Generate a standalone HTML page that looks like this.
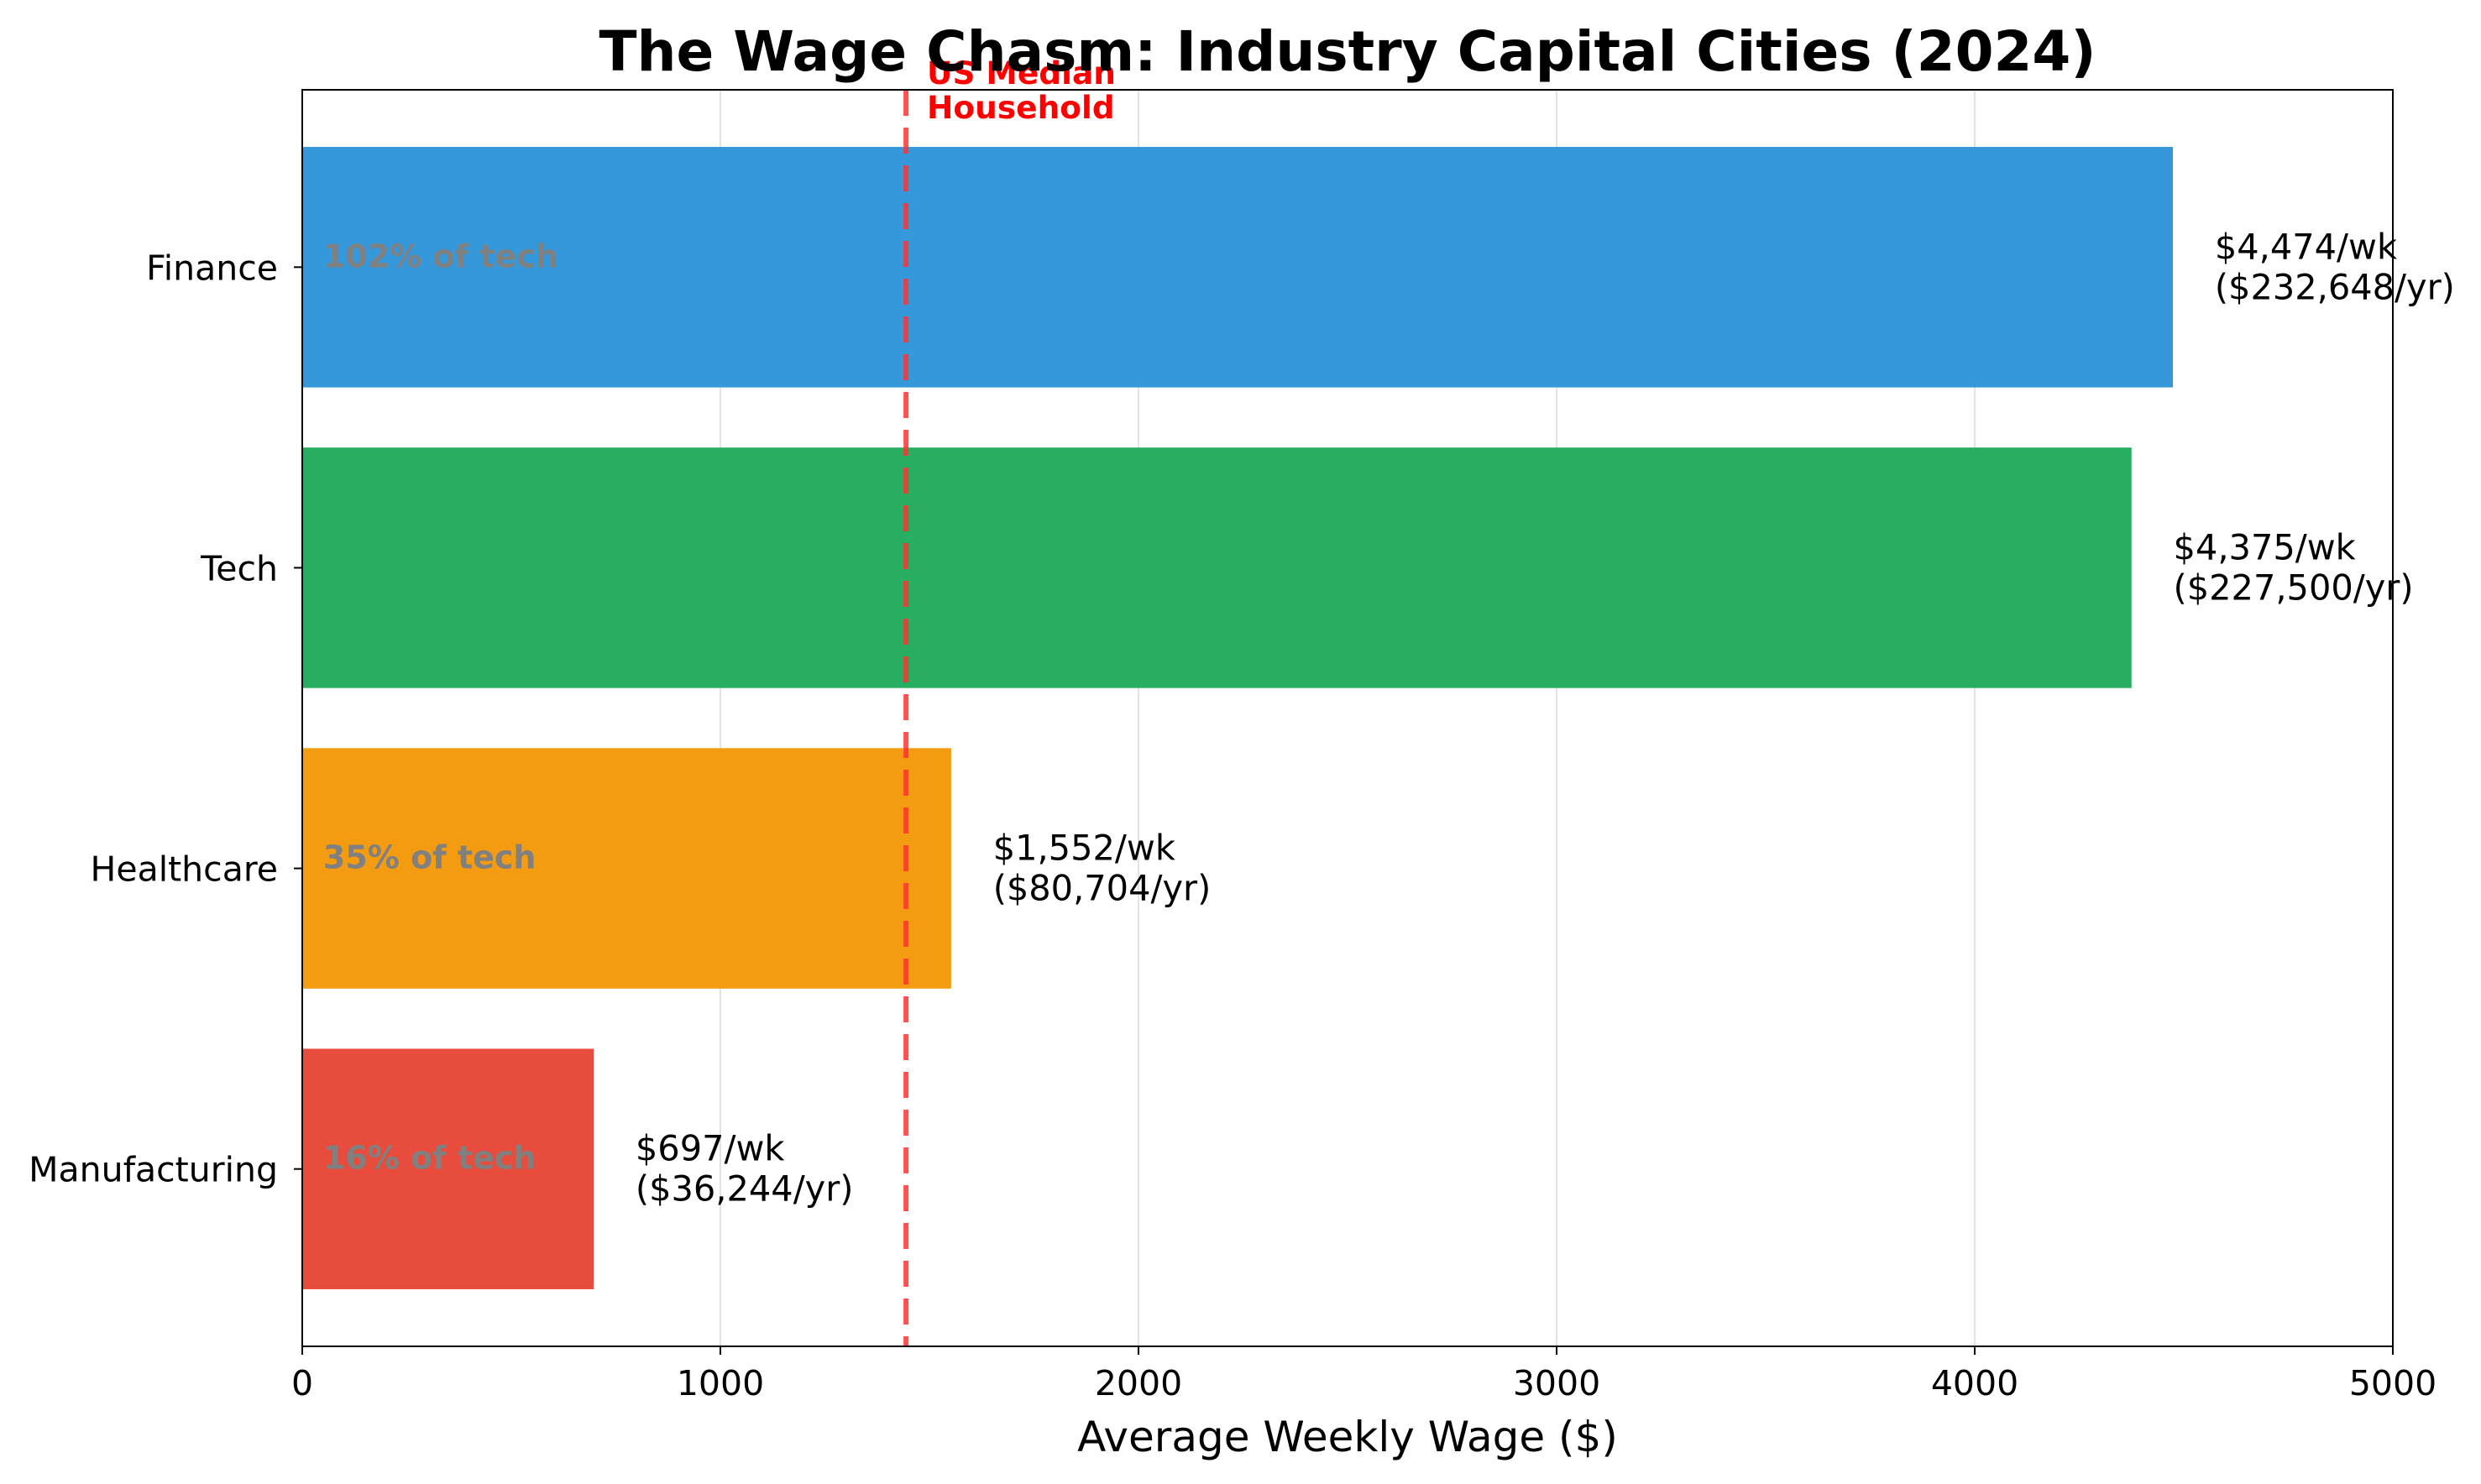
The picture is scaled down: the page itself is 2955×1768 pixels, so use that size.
<!DOCTYPE html>
<html><head><meta charset="utf-8"><style>
html,body{margin:0;padding:0;background:#fff}
svg{display:block;font-family:"DejaVu Sans","Liberation Sans",sans-serif}
</style></head><body>
<svg id="chart" width="2955" height="1768" viewBox="0 0 2955 1768" xmlns="http://www.w3.org/2000/svg">
<rect width="2955" height="1768" fill="#fff"/>
<g id="grid"></g><g id="bars"></g><g id="labels"></g><g id="axes"></g>
<text x="1605" y="84" text-anchor="middle" font-size="66" font-weight="bold">The Wage Chasm: Industry Capital Cities (2024)</text>
<text x="1605" y="1729" text-anchor="middle" font-size="50">Average Weekly Wage ($)</text>
</svg>
<script>
const categories = ["Manufacturing","Healthcare","Tech","Finance"];
const weeklyWages = [697,1552,4375,4474];
const annualLabels = ["$36,244/yr","$80,704/yr","$227,500/yr","$232,648/yr"];
const weeklyLabels = ["$697/wk","$1,552/wk","$4,375/wk","$4,474/wk"];
const pctLabels = ["16% of tech","35% of tech","","102% of tech"];
const colors = ["#e74c3c","#f39c12","#27ae60","#3498db"];
const xTicks = [0,1000,2000,3000,4000,5000];
const medianValue = 1444;

const NS="http://www.w3.org/2000/svg";
const L=360,R=2850,T=107,B=1604;
const xs=v=>L+(v-0)/(5000-0)*(R-L);
const yMin=-0.59,yMax=3.59;
const ys=v=>B-(v-yMin)/(yMax-yMin)*(B-T);
function mk(tag,attrs,parent,text){const e=document.createElementNS(NS,tag);for(const k in attrs)e.setAttribute(k,attrs[k]);if(text!==undefined)e.textContent=text;parent.appendChild(e);return e;}
const grid=document.getElementById('grid'),bars=document.getElementById('bars'),labels=document.getElementById('labels'),axes=document.getElementById('axes');

xTicks.forEach(t=>{
  const g=mk('line',{x1:xs(t),x2:xs(t),y1:T,y2:B,stroke:'#e3e3e3','stroke-width':2},grid);
  
  
});

categories.forEach((c,i)=>{
  const yc=ys(i),h=(ys(0)-ys(0.8));
  const r=mk('rect',{x:xs(0),y:yc-h/2,width:xs(weeklyWages[i])-xs(0),height:h,fill:colors[i]},bars);
  
  
  const t=mk('text',{x:xs(weeklyWages[i]+100),y:yc-10,'font-size':41.5},labels);
  
  
  mk('tspan',{x:xs(weeklyWages[i]+100),dy:0},t,weeklyLabels[i]);
  mk('tspan',{x:xs(weeklyWages[i]+100),dy:48},t,'('+annualLabels[i]+')');
  if(pctLabels[i]){
    const p=mk('text',{x:xs(50),y:yc,'font-size':38,'font-weight':'bold',fill:'#808080'},labels,pctLabels[i]);
    
    
  }
  const tk=mk('line',{x1:L-10,x2:L,y1:yc,y2:yc,stroke:'#000','stroke-width':2},axes);
  
  
  const tl=mk('text',{x:L-29,y:yc+15,'text-anchor':'end','font-size':41},axes,c);
  
  
});

const ml=mk('line',{x1:xs(medianValue),x2:xs(medianValue),y1:T,y2:B,stroke:'#ff3333','stroke-opacity':0.85,'stroke-width':6,'stroke-dasharray':'31 14'},labels);


const mt=mk('text',{x:xs(medianValue+50),y:100,'font-size':37.5,'font-weight':'bold',fill:'#ff0000'},labels);


mk('tspan',{x:xs(medianValue+50),dy:0},mt,'US Median');
mk('tspan',{x:xs(medianValue+50),dy:41},mt,'Household');

const fr=mk('rect',{x:L,y:T,width:R-L,height:B-T,fill:'none',stroke:'#000','stroke-width':2},axes);


xTicks.forEach(t=>{
  const tk=mk('line',{x1:xs(t),x2:xs(t),y1:B,y2:B+10,stroke:'#000','stroke-width':2},axes);
  
  
  const tl=mk('text',{x:xs(t),y:1662,'text-anchor':'middle','font-size':41},axes,String(t));
  
  
});
</script>
</body></html>
